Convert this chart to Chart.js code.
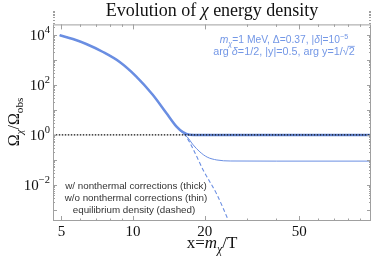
<!DOCTYPE html>
<html>
<head>
<meta charset="utf-8">
<script src="https://cdn.jsdelivr.net/npm/chart.js@4.4.0/dist/chart.umd.min.js"></script>
<style>
html, body { margin: 0; padding: 0; background: #fff; }
#wrap { width: 374px; height: 262px; }
</style>
</head>
<body>
<div id="wrap"><canvas id="c"></canvas></div>
<script>
// values
var thickX = [4.92, 5.59, 6.36, 7.48, 8.79, 10.3, 12.1, 13.8, 15.2, 16.2, 17.3, 19, 25, 50, 100];
var thickY = [9640, 6850, 4330, 2070, 826, 221, 40.6, 7.55, 2.22, 1.31, 1.03, 1.0, 1.0, 1.0, 1.0];
var thinX = [4.92, 5.59, 6.36, 7.48, 8.79, 10.3, 12.1, 13.8, 15.2, 16.2, 16.9, 17.9, 19.1, 20.5, 22.5, 25.6, 40, 100];
var thinY = [9640, 6850, 4330, 2070, 826, 221, 40.6, 7.55, 2.22, 1.15, 0.83, 0.40, 0.21, 0.13, 0.10, 0.091, 0.09, 0.09];
var eqX = [4.92, 5.59, 6.36, 7.48, 8.79, 10.3, 12.1, 13.8, 15.2, 16.56, 17.9, 19.7, 22.5, 25.1, 25.6];
var eqY = [9640, 6850, 4330, 2070, 826, 221, 40.6, 7.55, 2.15, 1.0, 0.27, 0.04, 0.0042, 0.0004, 0.00025];
var obsX = [4.6, 100];
var obsY = [1, 1];

var xTickLabels = [5, 10, 20, 50];
var xMinorTicks = [6, 7, 8, 9, 30, 40, 60, 70, 80, 90];
var yTickExps = [4, 2, 0, -2];
var yDecades = [-3, -2, -1, 0, 1, 2, 3, 4];

var blue = '#6a8ee2';
var noteBlue = '#7397e6';

function pts(xs, ys) {
    var out = [];
    for (let i = 0; i < xs.length; i++) out.push({x: xs[i], y: ys[i]});
    return out;
}

// draw a string made of pieces (italic, sub, sup, overline)
function rich(ctx, parts, x, y, align, fam, size, color) {
    var w = 0;
    parts.forEach(function (p) {
        var sz = (p.sub || p.sup) ? size * 0.7 : size;
        p._f = (p.it ? 'italic ' : '') + sz + 'px ' + fam;
        ctx.font = p._f;
        p._w = ctx.measureText(p.t).width;
        w += p._w;
    });
    var cx = align === 'center' ? x - w / 2 : (align === 'right' ? x - w : x);
    ctx.fillStyle = color;
    ctx.strokeStyle = color;
    ctx.textAlign = 'left';
    ctx.textBaseline = 'alphabetic';
    parts.forEach(function (p) {
        ctx.font = p._f;
        var dy = p.sub ? size * 0.28 : (p.sup ? -size * 0.42 : 0);
        ctx.fillText(p.t, cx, y + dy);
        if (p.over) {
            ctx.lineWidth = 0.8;
            ctx.beginPath();
            ctx.moveTo(cx - 1, y - size * 0.8);
            ctx.lineTo(cx + p._w, y - size * 0.8);
            ctx.stroke();
        }
        cx += p._w;
    });
}

var framePlugin = {
    id: 'frame',
    afterDraw: function (chart) {
        var ctx = chart.ctx, a = chart.chartArea;
        var xs = chart.scales.x, ys = chart.scales.y;
        ctx.save();
        ctx.strokeStyle = '#a0a0a0';
        ctx.lineWidth = 1;
        ctx.strokeRect(a.left + 0.5, a.top + 0.5, a.right - a.left - 1, a.bottom - a.top - 1);

        function xt(v, len) {
            var px = Math.round(xs.getPixelForValue(v)) + 0.5;
            ctx.beginPath();
            ctx.moveTo(px, a.bottom); ctx.lineTo(px, a.bottom - len);
            ctx.moveTo(px, a.top); ctx.lineTo(px, a.top + len);
            ctx.stroke();
        }
        function yt(v, len) {
            var py = Math.round(ys.getPixelForValue(v)) + 0.5;
            ctx.beginPath();
            ctx.moveTo(a.left, py); ctx.lineTo(a.left + len, py);
            ctx.moveTo(a.right, py); ctx.lineTo(a.right - len, py);
            ctx.stroke();
        }
        xTickLabels.forEach(function (v) { xt(v, 5); });
        xMinorTicks.forEach(function (v) { xt(v, 2.5); });
        yDecades.forEach(function (e) {
            yt(Math.pow(10, e), 4);
            for (let k = 2; k < 10; k++) yt(k * Math.pow(10, e), 2);
        });

        // tick labels
        ctx.fillStyle = '#111';
        ctx.font = '15px "Liberation Serif"';
        ctx.textAlign = 'center';
        ctx.textBaseline = 'alphabetic';
        xTickLabels.forEach(function (v) {
            ctx.fillText(String(v), xs.getPixelForValue(v), 236);
        });
        yTickExps.forEach(function (e) {
            var py = ys.getPixelForValue(Math.pow(10, e));
            var sup = e < 0 ? '\u2212' + (-e) : String(e);
            ctx.font = '10.5px "Liberation Serif"';
            var sw = ctx.measureText(sup).width;
            ctx.textAlign = 'left';
            ctx.fillText(sup, 50 - sw, py - 1.5);
            ctx.font = '15px "Liberation Serif"';
            ctx.textAlign = 'right';
            ctx.fillText('10', 50 - sw, py + 5);
        });

        // title
        rich(ctx, [{t: 'Evolution of '}, {t: '\u03c7', it: true}, {t: ' energy density'}],
            212, 16, 'center', '"Liberation Serif"', 18, '#111');

        // x title
        rich(ctx, [{t: 'x='}, {t: 'm', it: true}, {t: '\u03c7', it: true, sub: true}, {t: '/T'}],
            212, 248, 'center', '"Liberation Serif"', 17, '#111');

        // y title
        ctx.save();
        ctx.translate(19, 122);
        ctx.rotate(-Math.PI / 2);
        rich(ctx, [{t: '\u03a9'}, {t: '\u03c7', it: true, sub: true}, {t: '/\u03a9'}, {t: 'obs', sub: true}],
            0, 0, 'center', '"Liberation Serif"', 16, '#111');
        ctx.restore();

        // parameter note
        var sans = '"Liberation Sans"';
        rich(ctx, [{t: 'm', it: true}, {t: '\u03c7', it: true, sub: true}, {t: '=1 MeV, \u0394=0.37, |'},
            {t: '\u03b4', it: true}, {t: '|=10'}, {t: '\u22125', sup: true}],
            284, 43, 'center', sans, 10.3, noteBlue);
        rich(ctx, [{t: 'arg '}, {t: '\u03b4', it: true}, {t: '=1/2, |y|=0.5, arg y=1/\u221a'}, {t: '2', over: true}],
            284, 55, 'center', sans, 10.8, noteBlue);

        // curve key
        ctx.fillStyle = '#333';
        ctx.font = '9.8px ' + sans;
        ctx.textAlign = 'center';
        ctx.fillText('w/ nonthermal corrections (thick)', 136, 189);
        ctx.fillText('w/o nonthermal corrections (thin)', 136, 201);
        ctx.fillText('equilibrium density (dashed)', 134, 213);
        ctx.restore();
    }
};

var ctx = document.getElementById('c');
var myChart = new Chart(ctx, {
    type: 'line',
    data: {
        datasets: [{
            data: pts(obsX, obsY),
            borderColor: '#111',
            borderWidth: 1.3,
            borderDash: [1.5, 1.5],
            pointRadius: 0
        }, {
            data: pts(thickX, thickY),
            borderColor: blue,
            borderWidth: 2.5,
            pointRadius: 0,
            cubicInterpolationMode: 'monotone'
        }, {
            data: pts(thinX, thinY),
            borderColor: blue,
            borderWidth: 1,
            pointRadius: 0,
            cubicInterpolationMode: 'monotone'
        }, {
            data: pts(eqX, eqY),
            borderColor: blue,
            borderWidth: 1.1,
            borderDash: [4, 2.5],
            pointRadius: 0,
            cubicInterpolationMode: 'monotone'
        }]
    },
    options: {
        responsive: true,
        maintainAspectRatio: false,
        animation: false,
        layout: {
            padding: {top: 24.4, right: 3, left: 0, bottom: 0}
        },
        plugins: {
            legend: {display: false},
            tooltip: {enabled: false},
            title: {display: false}
        },
        scales: {
            x: {
                type: 'logarithmic',
                min: 4.61,
                max: 100,
                grid: {display: false},
                border: {display: false},
                ticks: {display: false},
                afterFit: function (s) { s.height = 41; }
            },
            y: {
                type: 'logarithmic',
                min: Math.pow(10, -3.44),
                max: Math.pow(10, 4.42),
                grid: {display: false},
                border: {display: false},
                ticks: {display: false},
                afterFit: function (s) { s.width = 53; }
            }
        }
    },
    plugins: [framePlugin]
});
</script>
</body>
</html>
